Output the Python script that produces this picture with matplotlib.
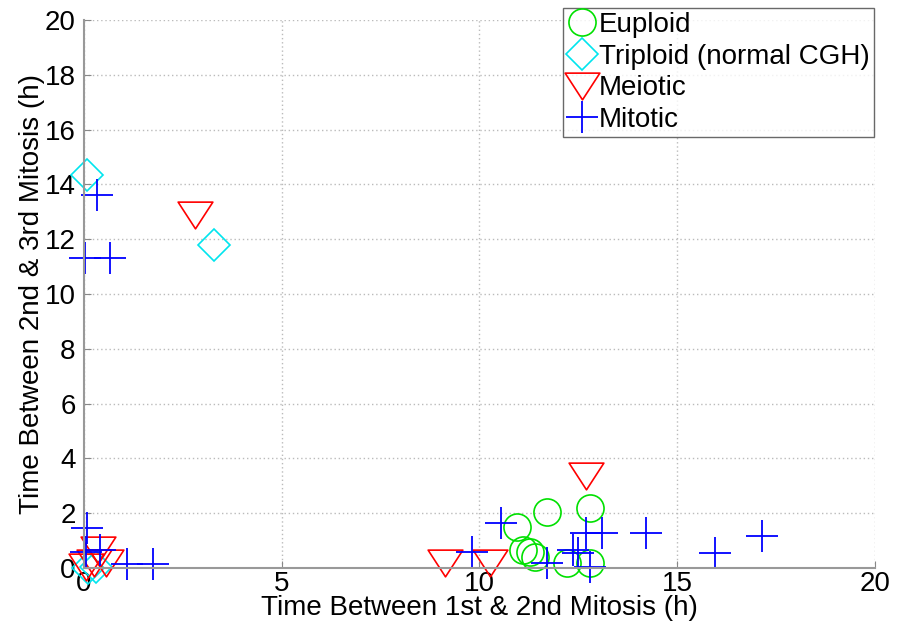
import numpy as np
import matplotlib.pyplot as plt
from matplotlib.path import Path

plt.rcParams['font.family'] = ['Liberation Sans', 'DejaVu Sans']

# Данные (часы)
euploid_x = [10.95, 11.7, 12.8, 11.1, 11.28, 11.4, 12.2, 12.8]
euploid_y = [1.5, 2.05, 2.18, 0.66, 0.6, 0.4, 0.18, 0.18]

triploid_x = [0.07, 3.3, 0.1, 0.3]
triploid_y = [14.35, 11.8, 0.0, 0.05]

meiotic_x = [2.8, 12.7, 9.13, 10.27, 0.35, 0.05, 0.25, 0.55]
meiotic_y = [12.9, 3.35, 0.2, 0.18, 0.65, 0.05, 0.2, 0.2]

mitotic_x = [0.33, 0.03, 0.66, 0.07, 0.4, 0.05, 1.09, 1.75,
             10.54, 9.8, 11.7, 12.37, 12.5, 12.7, 13.1, 12.8, 14.2, 15.95, 17.14]
mitotic_y = [13.6, 11.3, 11.3, 1.46, 0.66, 0.6, 0.15, 0.15,
             1.64, 0.58, 0.17, 0.66, 0.55, 1.27, 1.27, 0.04, 1.27, 0.55, 1.17]

# Треугольник как в MATLAB (шире, чем высота)
tri = Path([(-1, 0.77), (1, 0.77), (0, -0.77), (-1, 0.77)],
           [Path.MOVETO, Path.LINETO, Path.LINETO, Path.CLOSEPOLY])

fig = plt.figure(figsize=(8.97, 6.29), dpi=100)
ax = fig.add_axes([0.0936, 0.097, 0.8819, 0.871])

ax.plot(euploid_x, euploid_y, 'o', ls='none', mfc='none', mec='#00e000',
        ms=19.5, mew=1.2, label='Euploid', clip_on=False)
ax.plot(triploid_x, triploid_y, 'D', ls='none', mfc='none', mec='#00e5ee',
        ms=16, mew=1.2, label='Triploid (normal CGH)', clip_on=False)
ax.plot(meiotic_x, meiotic_y, marker=tri, ls='none', mfc='none', mec='red',
        ms=25, mew=1.2, label='Meiotic', clip_on=False)
ax.plot(mitotic_x, mitotic_y, '+', ls='none', color='blue',
        ms=23, mew=1.3, label='Mitotic', clip_on=False)

ax.set_xlim(0, 20)
ax.set_ylim(0, 20)
ax.set_xticks([0, 5, 10, 15, 20])
ax.set_yticks(np.arange(0, 21, 2))
ax.tick_params(direction='in', length=5, color='#888888', labelsize=20, pad=6)
ax.tick_params(axis='x', pad=2)
ax.grid(True, ls=(0, (1, 2)), color='#bbbbbb', lw=1)
for s in ['top', 'right']:
    ax.spines[s].set_visible(False)
for s in ['left', 'bottom']:
    ax.spines[s].set_color('#999999')
    ax.spines[s].set_linewidth(1.5)

ax.set_xlabel('Time Between 1st & 2nd Mitosis (h)', fontsize=20, labelpad=-1)
ax.set_ylabel('Time Between 2nd & 3rd Mitosis (h)', fontsize=20, labelpad=0)

leg = fig.legend(loc='upper left', bbox_to_anchor=(563 / 897, 1 - 8 / 629),
                 fontsize=20, handlelength=1.1, handletextpad=0.05,
                 borderpad=0.15, labelspacing=0.2, frameon=True,
                 fancybox=False, borderaxespad=0)
leg.get_frame().set_edgecolor('#444444')
leg.get_frame().set_linewidth(1)

plt.savefig('out.png', dpi=100)
